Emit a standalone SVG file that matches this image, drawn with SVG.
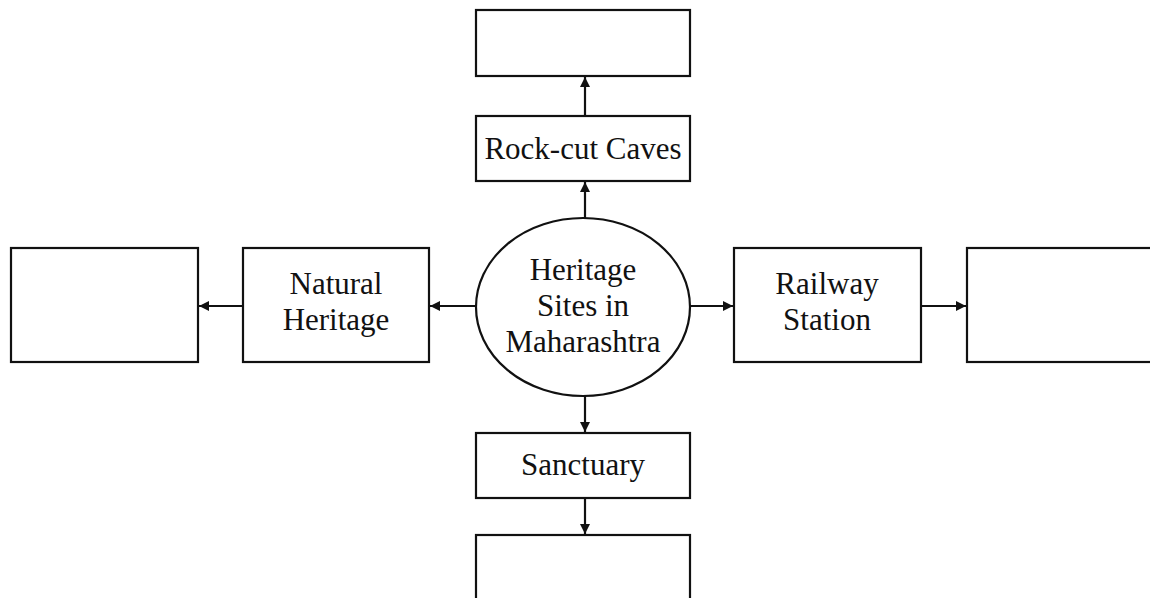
<svg xmlns="http://www.w3.org/2000/svg" width="1150" height="598" viewBox="0 0 1150 598">
<style>
.box{fill:#fff;stroke:#111;stroke-width:2.2}
.lbl{font-family:"Liberation Serif","Times New Roman",serif;font-size:31px;fill:#111;text-anchor:middle}
.conn{stroke:#111;stroke-width:2.2;fill:none;marker-end:url(#ah)}
</style>
<defs>
<marker id="ah" viewBox="0 0 10 10" refX="10" refY="5" markerWidth="12" markerHeight="10" markerUnits="userSpaceOnUse" orient="auto">
<path d="M0,0 L10,5 L0,10 Z" fill="#111"/>
</marker>
</defs>
<rect width="1150" height="598" fill="#fff"/>
<g id="connectors">
<line class="conn" x1="585" y1="218" x2="585" y2="182"/>
<line class="conn" x1="585" y1="116" x2="585" y2="77"/>
<line class="conn" x1="476" y1="306" x2="430" y2="306"/>
<line class="conn" x1="243" y1="306" x2="199" y2="306"/>
<line class="conn" x1="690" y1="306" x2="733" y2="306"/>
<line class="conn" x1="921" y1="306" x2="966" y2="306"/>
<line class="conn" x1="585" y1="396" x2="585" y2="432"/>
<line class="conn" x1="585" y1="498" x2="585" y2="534"/>
</g>
<g id="center">
<ellipse class="box" cx="583" cy="307" rx="107" ry="89"/>
<text class="lbl" x="583" y="280">Heritage</text>
<text class="lbl" x="583" y="316">Sites in</text>
<text class="lbl" x="583" y="352">Maharashtra</text>
</g>
<g id="top-empty"><rect class="box" x="476" y="10" width="214" height="66"/></g>
<g id="rockcut">
<rect class="box" x="476" y="116" width="214" height="65"/>
<text class="lbl" x="583" y="159">Rock-cut Caves</text>
</g>
<g id="natural">
<rect class="box" x="243" y="248" width="186" height="114"/>
<text class="lbl" x="336" y="294">Natural</text>
<text class="lbl" x="336" y="330">Heritage</text>
</g>
<g id="left-empty"><rect class="box" x="11" y="248" width="187" height="114"/></g>
<g id="railway">
<rect class="box" x="734" y="248" width="187" height="114"/>
<text class="lbl" x="827" y="294">Railway</text>
<text class="lbl" x="827" y="330">Station</text>
</g>
<g id="right-empty"><rect class="box" x="967" y="248" width="200" height="114"/></g>
<g id="sanctuary">
<rect class="box" x="476" y="433" width="214" height="65"/>
<text class="lbl" x="583" y="475">Sanctuary</text>
</g>
<g id="bottom-empty"><rect class="box" x="476" y="535" width="214" height="80"/></g>
</svg>
